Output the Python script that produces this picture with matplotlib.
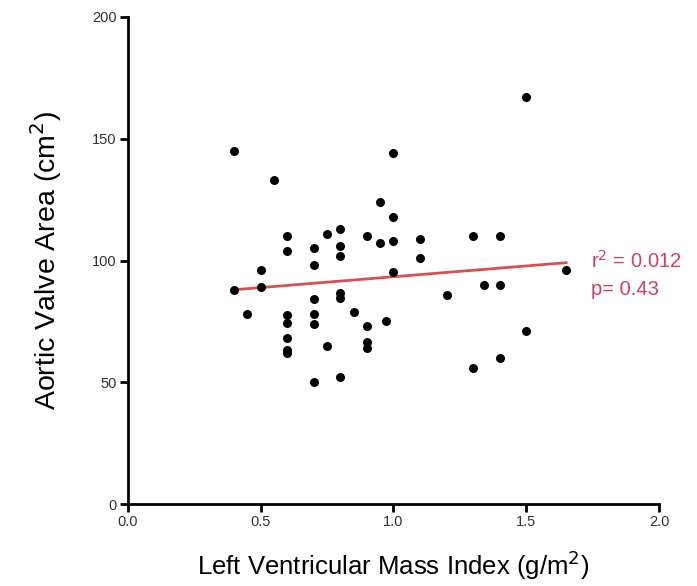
import matplotlib.pyplot as plt

plt.rcParams['font.family'] = ['Liberation Sans', 'DejaVu Sans']

# Left ventricular mass index (g/m^2) vs aortic valve area (cm^2)
lvmi = [0.40, 0.40, 0.45, 0.50, 0.50, 0.55,
        0.60, 0.60, 0.60, 0.60, 0.60, 0.60, 0.60,
        0.70, 0.70, 0.70, 0.70, 0.70, 0.70,
        0.75, 0.75,
        0.80, 0.80, 0.80, 0.80, 0.80, 0.80,
        0.85,
        0.90, 0.90, 0.90, 0.90,
        0.95, 0.95, 0.97,
        1.00, 1.00, 1.00, 1.00,
        1.10, 1.10, 1.20,
        1.30, 1.30, 1.34, 1.40, 1.40, 1.40,
        1.50, 1.50, 1.65]
ava = [145, 88, 78, 96, 89, 133,
       110, 104, 77.6, 74.5, 68, 63.2, 62,
       105, 98, 84, 78, 74, 50,
       111, 65,
       113, 106, 102, 86.5, 84.7, 52,
       79,
       110, 73, 66.4, 64,
       124, 107, 75,
       144, 118, 108, 95.4,
       109, 101, 86,
       110, 56, 90, 90, 110, 60,
       167, 71, 96]

# regression line end points
fit_x = [0.40, 1.65]
fit_y = [88.0, 99.1]

r2_text = 'r$^2$ = 0.012'
p_text = 'p= 0.43'

fig = plt.figure(figsize=(6.97, 5.86), dpi=100)
ax = fig.add_axes([0.1836, 0.1399, 0.7619, 0.8311])

ax.scatter(lvmi, ava, s=42, color='black', lw=0, zorder=3, clip_on=False)
ax.plot(fit_x, fit_y, color='#d9504f', lw=2, zorder=2)

ax.text(1.745, 99.8, r2_text, color='#d0405e', fontsize=14.5, va='center')
ax.text(1.745, 88.0, p_text, color='#d0405e', fontsize=14.5, va='center')

ax.set_xlim(0, 2.0)
ax.set_ylim(0, 200)
ax.set_xticks([0.0, 0.5, 1.0, 1.5, 2.0])
ax.set_xticklabels(['0.0', '0.5', '1.0', '1.5', '2.0'])
ax.set_yticks([0, 50, 100, 150, 200])

for side in ['top', 'right']:
    ax.spines[side].set_visible(False)
for side in ['left', 'bottom']:
    ax.spines[side].set_linewidth(2)
ax.tick_params(width=2, length=6, labelsize=10.5, colors='black', labelcolor='#333333', pad=2)

ax.set_xlabel('Left Ventricular Mass Index (g/m$^2$)', fontsize=18.5)
ax.xaxis.set_label_coords(0.5, -0.092)
ax.set_ylabel('Aortic Valve Area (cm$^2$)', fontsize=20.5)
ax.yaxis.set_label_coords(-0.12, 0.5)

fig.savefig('out.png', dpi=100, facecolor='white')
